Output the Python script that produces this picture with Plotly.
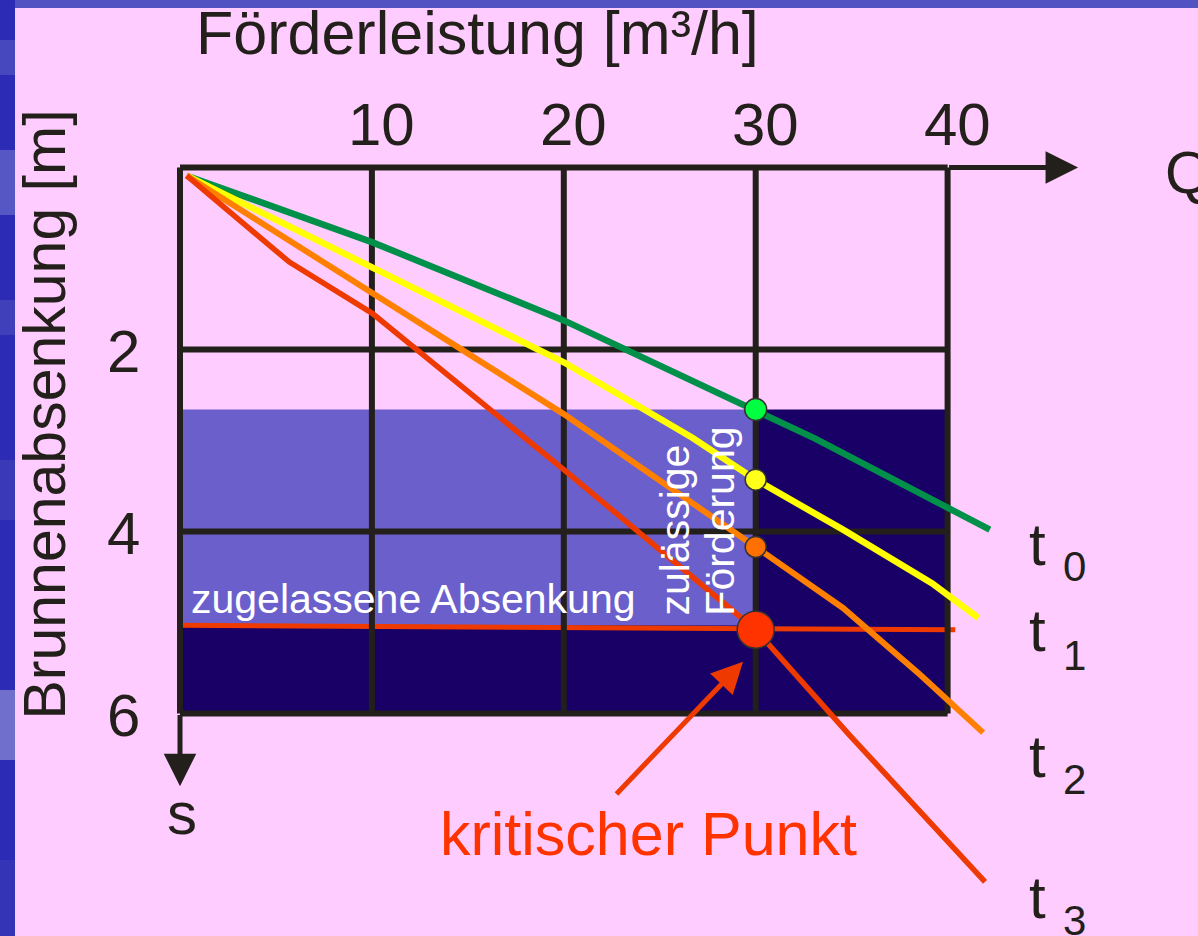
import plotly.graph_objects as go

# ---- data -------------------------------------------------------------
# pumping rate Q [m³/h] and well drawdown s [m] for four time steps
q_t0 = [0.35, 10, 20, 30, 33.1, 42.2]
s_t0 = [0.09, 0.82, 1.68, 2.66, 2.98, 3.98]

q_t1 = [0.35, 10, 20, 26.7, 30, 34.55, 39.2, 41.6]
s_t1 = [0.09, 1.09, 2.14, 2.97, 3.43, 3.98, 4.57, 4.95]

q_t2 = [0.35, 10, 20, 30, 34.55, 38.6, 41.85]
s_t2 = [0.09, 1.38, 2.71, 4.17, 4.84, 5.58, 6.21]

q_t3 = [0.35, 5.7, 10, 20, 30, 34.9, 41.95]
s_t3 = [0.09, 1.04, 1.60, 3.32, 5.08, 6.24, 7.85]

# drawdown of each curve at the permitted rate
q_allowed = 30
s_at_allowed = [2.66, 3.43, 4.17, 5.08]

# permitted drawdown line
q_limit = [0, 40.4]
s_limit = [5.03, 5.08]

# upper edge of the shaded operating band
s_band_top = 2.66

x_ticks = [10, 20, 30, 40]
y_ticks = [2, 4, 6]
q_max = 40
s_max = 6

curve_labels = ["0", "1", "2", "3"]
label_t_s = [4.14, 5.09, 6.47, 8.02]
label_sub_s = [4.39, 5.36, 6.73, 8.27]

# ---- styling ----------------------------------------------------------
PINK = "#FFCCFF"
INK = "#231F1B"
LIGHT_BAND = "#6B5FCC"
DARK_BAND = "#180066"
RED = "#EE3A00"
FONT = "Liberation Sans, Arial, sans-serif"

curve_colors = ["#00904A", "#FFFF00", "#FF8000", "#EE3A00"]
curve_widths = [6.5, 6.5, 6, 5.5]
marker_colors = ["#00FF40", "#FFFF1A", "#FF7000", "#FF3300"]
marker_sizes = [22, 21, 21, 37]

# axis scale: 19.19 px per m³/h, 91 px per m
W, H = 1198, 936
X0_PX, PX_Q = 180.0, 19.19
Y0_PX, PX_S = 167.5, 91.0
x_range = [-X0_PX / PX_Q, (W - X0_PX) / PX_Q]
y_range = [(H - Y0_PX) / PX_S, -Y0_PX / PX_S]

fig = go.Figure()

shapes = []
# shaded bands
shapes.append(dict(type="rect", xref="x", yref="y", x0=0, x1=q_allowed,
                   y0=s_band_top, y1=s_limit[0], fillcolor=LIGHT_BAND,
                   line_width=0, layer="below"))
shapes.append(dict(type="rect", xref="x", yref="y", x0=q_allowed, x1=q_max,
                   y0=s_band_top, y1=s_max, fillcolor=DARK_BAND,
                   line_width=0, layer="below"))
shapes.append(dict(type="rect", xref="x", yref="y", x0=0, x1=q_allowed,
                   y0=s_limit[0], y1=s_max, fillcolor=DARK_BAND,
                   line_width=0, layer="below"))
# permitted drawdown
shapes.append(dict(type="line", xref="x", yref="y", x0=q_limit[0], x1=q_limit[1],
                   y0=s_limit[0], y1=s_limit[1], line=dict(color=RED, width=5),
                   layer="below"))
# grid
for q in [0] + x_ticks:
    shapes.append(dict(type="line", xref="x", yref="y", x0=q, x1=q, y0=0, y1=s_max,
                       line=dict(color=INK, width=6), layer="below"))
for s in [0] + y_ticks:
    shapes.append(dict(type="line", xref="x", yref="y", x0=0, x1=q_max, y0=s, y1=s,
                       line=dict(color=INK, width=6), layer="below"))

# slide frame strips
shapes.append(dict(type="rect", xref="paper", yref="paper", x0=0, x1=1,
                   y0=1 - 8 / H, y1=1, fillcolor="#5252C2", line_width=0))
shapes.append(dict(type="rect", xref="paper", yref="paper", x0=0, x1=15 / W,
                   y0=0, y1=1, fillcolor="#2B2BB5", line_width=0))
for y_a, y_b, col in [(40, 75, "#4848BE"), (150, 215, "#5656C4"), (300, 335, "#4040BB"),
                      (460, 520, "#3A3AB9"), (690, 760, "#7070CC"), (860, 936, "#3434B7")]:
    shapes.append(dict(type="rect", xref="paper", yref="paper", x0=0, x1=15 / W,
                       y0=1 - y_b / H, y1=1 - y_a / H, fillcolor=col, line_width=0))

# curves
for q, s, c, w in zip([q_t0, q_t1, q_t2, q_t3], [s_t0, s_t1, s_t2, s_t3],
                      curve_colors, curve_widths):
    fig.add_trace(go.Scatter(x=q, y=s, mode="lines", line=dict(color=c, width=w),
                             hoverinfo="skip", showlegend=False))

# points at the permitted rate
fig.add_trace(go.Scatter(
    x=[q_allowed] * len(s_at_allowed), y=s_at_allowed, mode="markers",
    marker=dict(color=marker_colors, size=marker_sizes, opacity=1,
                line=dict(color="#333333", width=1.5)),
    hoverinfo="skip", showlegend=False))

annotations = []


def label(text, x, y, size, color=INK, xanchor="center", yanchor="middle", angle=0):
    annotations.append(dict(text=text, x=x, y=y, xref="x", yref="y",
                            showarrow=False, xanchor=xanchor, yanchor=yanchor,
                            textangle=angle, font=dict(family=FONT, size=size, color=color)))


label("Förderleistung [m³/h]", 15.5, -1.473, 61)
for v in x_ticks:
    label(str(v), v + 0.5, -0.4725, 60)
for v in y_ticks:
    label(str(v), -2.92, v + 0.02, 60)
label("Brunnenabsenkung [m]", -7.06, 2.72, 59, angle=-90)
label("Q", 51.2, 0.05, 60, xanchor="left")
label("s", 0.1, 7.10, 60)
label("kritischer Punkt", 24.4, 7.32, 61, color="#FF3300")
label("zugelassene Absenkung", 0.45, 4.74, 41, color="white", xanchor="left")
label("zulässige", 25.8, 4.95, 41, color="white", yanchor="bottom", angle=-90)
label("Förderung", 28.15, 4.95, 41, color="white", yanchor="bottom", angle=-90)
for sub, st, ss in zip(curve_labels, label_t_s, label_sub_s):
    label("t", 44.7, st, 60)
    label(sub, 46.6, ss, 42)

# axis arrows and the pointer to the critical point
annotations.append(dict(x=46.8, y=0, ax=q_max, ay=0, xref="x", yref="y", axref="x",
                        ayref="y", text="", showarrow=True, arrowhead=2, arrowsize=1.3,
                        arrowwidth=5, arrowcolor=INK))
annotations.append(dict(x=0, y=6.8, ax=0, ay=s_max, xref="x", yref="y", axref="x",
                        ayref="y", text="", showarrow=True, arrowhead=2, arrowsize=1.3,
                        arrowwidth=5, arrowcolor=INK))
annotations.append(dict(x=29.34, y=5.43, ax=22.67, ay=6.90, xref="x", yref="y", axref="x",
                        ayref="y", text="", showarrow=True, arrowhead=2, arrowsize=1.25,
                        arrowwidth=5, arrowcolor=RED))

fig.update_layout(
    width=W, height=H, margin=dict(l=0, r=0, t=0, b=0),
    paper_bgcolor=PINK, plot_bgcolor=PINK,
    xaxis=dict(range=x_range, visible=False, fixedrange=True),
    yaxis=dict(range=y_range, visible=False, fixedrange=True),
    shapes=shapes, annotations=annotations, showlegend=False,
)

fig.write_html("out.html")
